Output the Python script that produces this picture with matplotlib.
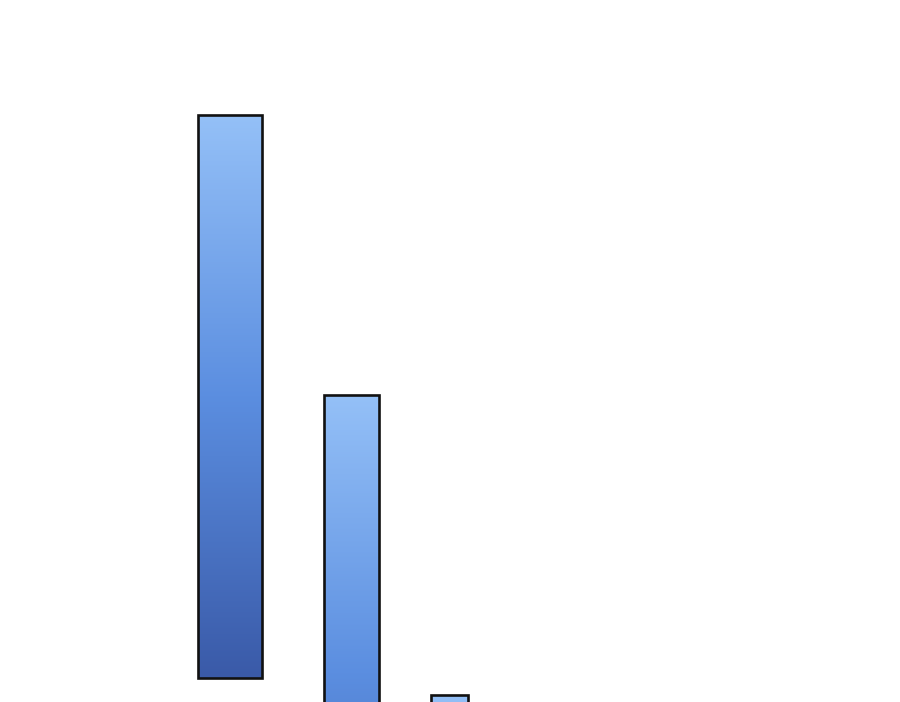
import matplotlib
matplotlib.use('Agg')
import matplotlib.pyplot as plt
import numpy as np
from matplotlib.colors import LinearSegmentedColormap

# bar data (floating bars, chart is cropped at the bottom)
bar_tops = [58.7, 30.7, 0.7]
bar_bottoms = [2.4, -25.0, -25.0]

# layout
centers = [2.30, 3.515, 4.495]
widths = [0.64, 0.55, 0.37]

cmap = LinearSegmentedColormap.from_list('blues', ['#3a5aa8', '#5b8ee0', '#94c0f7'])

fig = plt.figure(figsize=(9, 7.02), dpi=100)
ax = fig.add_axes([0, 0, 1, 1])
ax.set_xlim(0, 9)
ax.set_ylim(0, 70.2)
ax.axis('off')

grad = np.linspace(0, 1, 256).reshape(-1, 1)

for c, w, top, bot in zip(centers, widths, bar_tops, bar_bottoms):
    bars = ax.bar(c, top - bot, bottom=bot, width=w, facecolor='none',
                  edgecolor='#111111', linewidth=1.9, zorder=3)
    patch = bars.patches[0]
    img = ax.imshow(grad, cmap=cmap, origin='lower', aspect='auto',
                    extent=[c - w / 2, c + w / 2, bot, top], zorder=2)
    img.set_clip_path(patch)

ax.set_xlim(0, 9)
ax.set_ylim(0, 70.2)

plt.savefig('out.png', dpi=100)
